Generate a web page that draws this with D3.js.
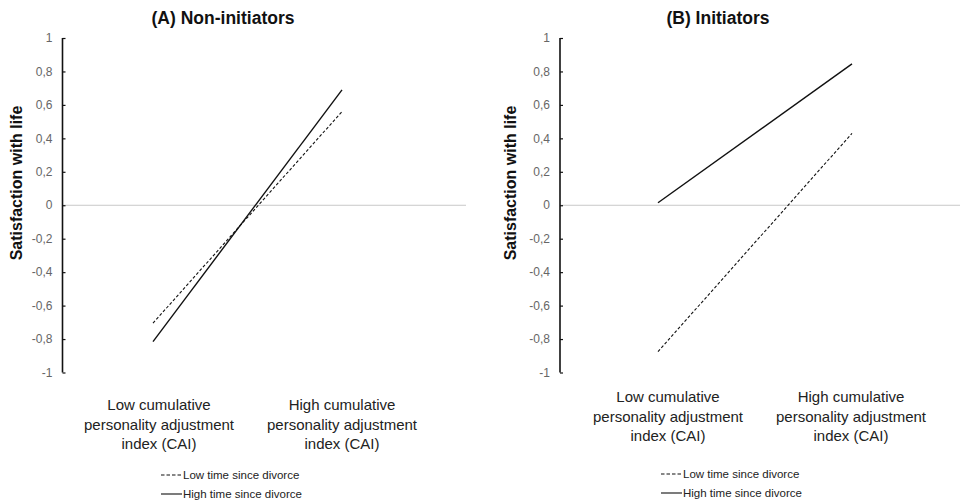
<!DOCTYPE html>
<html>
<head>
<meta charset="utf-8">
<script src="https://cdn.jsdelivr.net/npm/d3@7"></script>
<style>
  body { margin: 0; background: #fff; }
  svg text { font-family: "Liberation Sans", Arial, sans-serif; }
  .tick-label { fill: #666; font-size: 12px; }
  .cat { fill: #222; font-size: 15px; }
  .title { font-family: "Liberation Sans Narrow", "Liberation Sans", sans-serif !important; font-weight: bold; font-size: 17.5px; fill: #111; }
  .ytitle { font-family: "Liberation Sans Narrow", "Liberation Sans", sans-serif !important; font-weight: bold; font-size: 16px; fill: #111; }
  .legend { font-family: "Liberation Sans Narrow", "Liberation Sans", sans-serif !important; font-size: 11.5px; fill: #222; }
</style>
</head>
<body>
<svg id="chart" width="960" height="501"></svg>
<script>
// chart data
var categories = ["Low", "High"];
var catLabels = [
  ["Low cumulative", "personality adjustment", "index (CAI)"],
  ["High cumulative", "personality adjustment", "index (CAI)"]
];
var panelTitles = ["(A) Non-initiators", "(B) Initiators"];
var seriesNames = ["Low time since divorce", "High time since divorce"];
var yTicks = [1, 0.8, 0.6, 0.4, 0.2, 0, -0.2, -0.4, -0.6, -0.8, -1];

// panel A
var nonInitLow = [-0.705, 0.56];
var nonInitHigh = [-0.815, 0.69];
// panel B
var initLow = [-0.875, 0.43];
var initHigh = [0.015, 0.845];

var svg = d3.select("#chart");

var y = d3.scaleLinear().domain([-1, 1]).range([372.5, 38]);

var panels = [
  { title: panelTitles[0], axisX: 62.5, zeroEnd: 466, xr: [153, 342], titleX: 223,
    labelX: [159, 342], labelY: 405, yTitleX: 16, legendX: 161, legendY: 475,
    series: [nonInitLow, nonInitHigh] },
  { title: panelTitles[1], axisX: 560, zeroEnd: 960, xr: [658, 852], titleX: 718,
    labelX: [668, 851], labelY: 397, yTitleX: 510, legendX: 661, legendY: 474,
    series: [initLow, initHigh] }
];

var dashes = ["3,2", null];

panels.forEach(function(p) {
  var g = svg.append("g");
  var x = d3.scalePoint().domain(categories).range(p.xr);

  // zero line
  g.append("line")
    .attr("x1", p.axisX).attr("x2", p.zeroEnd)
    .attr("y1", y(0)).attr("y2", y(0))
    .attr("stroke", "#c8c8c8").attr("stroke-width", 1);

  // y axis
  var axis = d3.axisRight(y).tickValues(yTicks).tickSize(3).tickFormat("");
  var ag = g.append("g").attr("transform", "translate(" + p.axisX + ",0)").call(axis);
  ag.select(".domain").attr("stroke", "#111").attr("stroke-width", 1.6)
    .attr("d", "M0," + y(1) + "V" + y(-1));
  ag.selectAll(".tick line").attr("stroke", "#111").attr("stroke-width", 1.2);

  g.selectAll(".tick-label").data(yTicks).enter().append("text")
    .attr("class", "tick-label")
    .attr("x", p.axisX - 10)
    .attr("y", function(d) { return y(d); })
    .attr("dy", "0.35em")
    .attr("text-anchor", "end")
    .text(function(d) { return String(d).replace(".", ","); });

  // title
  g.append("text").attr("class", "title")
    .attr("x", p.titleX).attr("y", 24)
    .attr("text-anchor", "middle").text(p.title);

  // y title
  g.append("text").attr("class", "ytitle")
    .attr("transform", "translate(" + (p.yTitleX + 6) + "," + 183 + ") rotate(-90)")
    .attr("text-anchor", "middle").text("Satisfaction with life");

  // category labels
  categories.forEach(function(c, i) {
    var t = g.append("text").attr("class", "cat").attr("text-anchor", "middle");
    catLabels[i].forEach(function(line, j) {
      t.append("tspan").attr("x", p.labelX[i]).attr("y", p.labelY + 5 + j * 19.5).text(line);
    });
  });

  // series lines
  var line = d3.line().x(function(d, i) { return x(categories[i]); }).y(function(d) { return y(d); });
  p.series.forEach(function(s, k) {
    g.append("path")
      .attr("d", line(s))
      .attr("fill", "none")
      .attr("stroke", "#111")
      .attr("stroke-width", k === 0 ? 1.1 : 1.4)
      .attr("stroke-dasharray", dashes[k]);
  });

  // legend
  seriesNames.forEach(function(name, k) {
    var ly = p.legendY + k * 19;
    g.append("line")
      .attr("x1", p.legendX).attr("x2", p.legendX + 21)
      .attr("y1", ly).attr("y2", ly)
      .attr("stroke", "#111").attr("stroke-width", 1.1)
      .attr("stroke-dasharray", k === 0 ? "3.5,2" : null);
    g.append("text").attr("class", "legend")
      .attr("x", p.legendX + 22).attr("y", ly).attr("dy", "0.35em")
      .text(name);
  });
});
</script>
</body>
</html>
